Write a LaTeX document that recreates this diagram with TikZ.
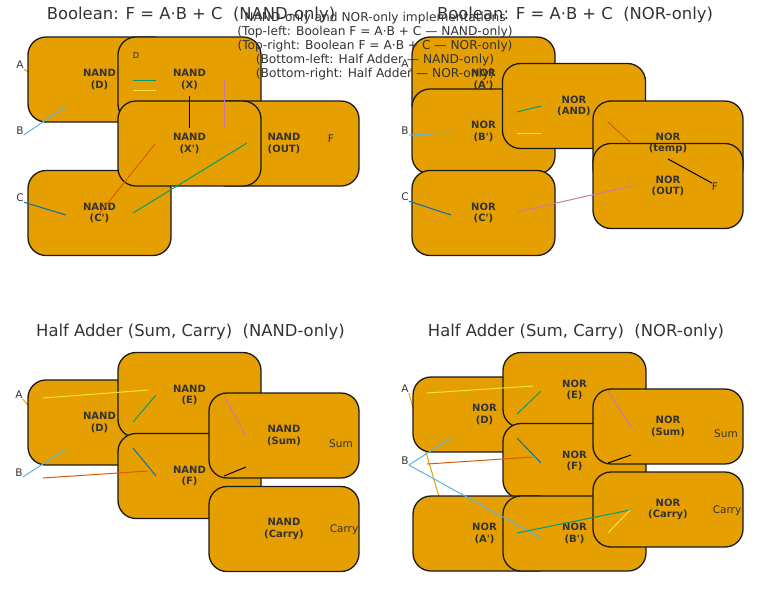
\documentclass[tikz,border=0pt]{standalone}
\usepackage{fontspec}
\setmainfont{DejaVu Sans}

\definecolor{gatefill}{HTML}{E69F00}
\definecolor{boxedge}{HTML}{1A1A1A}
\definecolor{ink}{HTML}{333333}
\definecolor{okorange}{HTML}{E69F00}
\definecolor{okskyblue}{HTML}{56B4E9}
\definecolor{okgreen}{HTML}{009E73}
\definecolor{okyellow}{HTML}{F0E442}
\definecolor{okblue}{HTML}{0072B2}
\definecolor{okvermillion}{HTML}{D55E00}
\definecolor{okpink}{HTML}{CC79A7}

\newcommand{\pr}{\textquotesingle}

\begin{document}
\begin{tikzpicture}[x=1pt, y=-1pt,
  gatetxt/.style={inner sep=0pt, align=center, text=ink,
    font=\fontsize{10}{11.5}\selectfont\bfseries},
  gate/.style={gatetxt, draw=boxedge, line width=1.3pt, fill=gatefill, rounded corners=18pt,
    minimum width=143pt, minimum height=85pt},
  wide/.style={minimum width=150pt},
  low/.style={minimum height=75pt},
  iolbl/.style={inner sep=0pt, text=ink, font=\fontsize{10.5}{12}\selectfont},
  paneltitle/.style={anchor=base, inner sep=0pt, text=ink, font=\fontsize{16.4}{19}\selectfont},
  wire/.style={line width=1pt}]

  \useasboundingbox (0,0) rectangle (768,590);

  % panel titles
  \node[paneltitle] (tlTitle) at (191,19.5) {Boolean: F = A·B + C~~(NAND-only)};
  \node[paneltitle] (trTitle) at (575,19.5) {Boolean: F = A·B + C~~(NOR-only)};
  \node[paneltitle] (blTitle) at (190.5,336) {Half Adder (Sum, Carry)~~(NAND-only)};
  \node[paneltitle] (brTitle) at (576,336) {Half Adder (Sum, Carry)~~(NOR-only)};

  % inputs
  \node[iolbl] (tlA) at (20,65) {A};
  \node[iolbl] (tlB) at (20,131) {B};
  \node[iolbl] (tlC) at (20,198) {C};
  \node[iolbl] (trA) at (405,64) {A};
  \node[iolbl] (trB) at (405,131) {B};
  \node[iolbl] (trC) at (405,197) {C};
  \node[iolbl] (blA) at (19,395) {A};
  \node[iolbl] (blB) at (19,473) {B};
  \node[iolbl] (brA) at (405,389) {A};
  \node[iolbl] (brB) at (405,461) {B};

  % wire ends
  \coordinate (tlDinA) at (66,96);
  \coordinate (tlDinB) at (66,106);
  \coordinate (tlCin) at (66,215);
  \coordinate (tlDo1) at (133,80);  \coordinate (tlXi1) at (156,80);
  \coordinate (tlDo2) at (133,90);  \coordinate (tlXi2) at (156,90);
  \coordinate (tlXo) at (189,96);   \coordinate (tlXpi) at (189,128);
  \coordinate (tlXo2) at (224,80);  \coordinate (tlXpi2) at (224,128);
  \coordinate (tlXpi3) at (155,144); \coordinate (tlCo) at (99,214);
  \coordinate (tlXpo) at (223,143); \coordinate (tlOutin) at (247,143);
  \coordinate (tlCo2) at (133,213);

  \coordinate (trApin) at (451,96);
  \coordinate (trBpin) at (451,133);
  \coordinate (trCpin) at (451,215);
  \coordinate (trAo) at (517,112);  \coordinate (trAndi1) at (541,106);
  \coordinate (trBo) at (517,133);  \coordinate (trAndi2) at (541,133);
  \coordinate (trAndo) at (608,122); \coordinate (trTempi) at (631,143);
  \coordinate (trTempo) at (668,159);
  \coordinate (trCo) at (517,212);  \coordinate (trOuti) at (631,186);

  \coordinate (blDinA) at (66,452);
  \coordinate (blDinB) at (66,449);
  \coordinate (blAo) at (43,398);   \coordinate (blEi1) at (148,390);
  \coordinate (blDo1) at (133,422); \coordinate (blEi2) at (156,395);
  \coordinate (blBo) at (43,478);   \coordinate (blFi1) at (148,471);
  \coordinate (blDo2) at (133,448); \coordinate (blFi2) at (156,476);
  \coordinate (blEo) at (224,396);  \coordinate (blSumi1) at (246,436);
  \coordinate (blFo) at (224,476);  \coordinate (blSumi2) at (246,467);

  \coordinate (brApin) at (451,538);
  \coordinate (brDinB) at (451,438);
  \coordinate (brBpin) at (541,538);
  \coordinate (brAo) at (427,393);  \coordinate (brEi1) at (533,386);
  \coordinate (brDo1) at (517,414); \coordinate (brEi2) at (541,391);
  \coordinate (brBo) at (427,464);  \coordinate (brFi1) at (533,457);
  \coordinate (brDo2) at (517,438); \coordinate (brFi2) at (541,463);
  \coordinate (brEo) at (608,391);  \coordinate (brSumi1) at (631,427);
  \coordinate (brFo) at (608,463);  \coordinate (brSumi2) at (631,455);
  \coordinate (brApo) at (517,533); \coordinate (brCarryi) at (630,510);
  \coordinate (brBpo) at (608,533);

  % A wires run under the gates
  \draw[wire, okorange] (tlA.south east) -- (tlDinA);
  \draw[wire, okorange] (trA.south east) -- (trApin);
  \draw[wire, okorange] (blA.south east) -- (blDinA);
  \draw[wire, okorange] (brA.south east) -- (brApin);

  % top-left: NAND-only
  \node[gate] (tlD) at (99.5,79.5) {NAND\\(D)};
  \node[gate] (tlCp) at (99.5,213) {NAND\\(C\pr)};
  \node[gate] (tlX) at (189.5,79.5) {NAND\\(X)};
  \node[gate, wide] (tlOut) at (284,143.5) {NAND\\(OUT)};
  \node[gate] (tlXp) at (189.5,143.5) {NAND\\(X\pr)};

  % top-right: NOR-only (temp text goes on top of OUT)
  \node[gate] (trAp) at (483.5,79.5) {NOR\\(A\pr)};
  \node[gate] (trBp) at (483.5,131.5) {NOR\\(B\pr)};
  \node[gate] (trCp) at (483.5,213) {NOR\\(C\pr)};
  \node[gate] (trAnd) at (574,106) {NOR\\(AND)};
  \node[gate, wide] (trTemp) at (668,143.5) {};
  \node[gate, wide] (trOut) at (668,186) {NOR\\(OUT)};
  \node[gatetxt] (trTempTxt) at (trTemp) {NOR\\(temp)};

  % bottom-left: half adder, NAND-only
  \node[gate] (blD) at (99.5,422.5) {NAND\\(D)};
  \node[gate] (blE) at (189.5,395) {NAND\\(E)};
  \node[gate] (blF) at (189.5,476) {NAND\\(F)};
  \node[gate, wide] (blSum) at (284,435.5) {NAND\\(Sum)};
  \node[gate, wide] (blCarry) at (284,529) {NAND\\(Carry)};

  % bottom-right: half adder, NOR-only
  \node[gate, low] (brD) at (484.5,414.5) {NOR\\(D)};
  \node[gate, low] (brE) at (574.5,390) {NOR\\(E)};
  \node[gate, low] (brF) at (574.5,461) {NOR\\(F)};
  \node[gate, low, wide] (brSum) at (668,426.5) {NOR\\(Sum)};
  \node[gate, low] (brAp) at (484.5,533.5) {NOR\\(A\pr)};
  \node[gate, low] (brBp) at (574.5,533.5) {NOR\\(B\pr)};
  \node[gate, low, wide] (brCarry) at (668,509.5) {NOR\\(Carry)};

  % outputs and stray labels
  \node[iolbl] (tlF) at (331,139) {F};
  \node[iolbl, font=\fontsize{8.3}{10}\selectfont] (tlDtag) at (136,55) {D};
  \node[iolbl] (trF) at (715,187) {F};
  \node[iolbl] (blSumLbl) at (341,444) {Sum};
  \node[iolbl] (blCarryLbl) at (344,530) {Carry};
  \node[iolbl] (brSumLbl) at (726,434) {Sum};
  \node[iolbl] (brCarryLbl) at (727,511) {Carry};

  % wires on top
  \draw[wire, okskyblue] (tlB.south east) -- (tlDinB);
  \draw[wire, okblue] (tlC.south east) -- (tlCin);
  \draw[wire, okgreen] (tlDo1) -- (tlXi1);
  \draw[wire, okyellow] (tlDo2) -- (tlXi2);
  \draw[wire, black] (tlXo) -- (tlXpi);
  \draw[wire, okpink] (tlXo2) -- (tlXpi2);
  \draw[wire, okvermillion] (tlXpi3) -- (tlCo);
  \draw[wire, okskyblue] (tlXpo) -- (tlOutin);
  \draw[wire, okgreen] (tlOutin) -- (tlCo2);

  \draw[wire, okskyblue] (trB.south east) -- (trBpin);
  \draw[wire, okblue] (trC.south east) -- (trCpin);
  \draw[wire, okgreen] (trAo) -- (trAndi1);
  \draw[wire, okyellow] (trBo) -- (trAndi2);
  \draw[wire, okvermillion] (trAndo) -- (trTempi);
  \draw[wire, black] (trTempo) -- (trF.north west);
  \draw[wire, okpink] (trCo) -- (trOuti);

  \draw[wire, okyellow] (blAo) -- (blEi1);
  \draw[wire, okgreen] (blDo1) -- (blEi2);
  \draw[wire, okskyblue] (blB.south east) -- (blDinB);
  \draw[wire, okvermillion] (blBo) -- (blFi1);
  \draw[wire, okblue] (blDo2) -- (blFi2);
  \draw[wire, okpink] (blEo) -- (blSumi1);
  \draw[wire, black] (blFo) -- (blSumi2);

  \draw[wire, okyellow] (brAo) -- (brEi1);
  \draw[wire, okgreen] (brDo1) -- (brEi2);
  \draw[wire, okskyblue] (brB.south east) -- (brDinB);
  \draw[wire, okskyblue] (brB.south east) -- (brBpin);
  \draw[wire, okvermillion] (brBo) -- (brFi1);
  \draw[wire, okblue] (brDo2) -- (brFi2);
  \draw[wire, okpink] (brEo) -- (brSumi1);
  \draw[wire, black] (brFo) -- (brSumi2);
  \draw[wire, okgreen] (brApo) -- (brCarryi);
  \draw[wire, okyellow] (brBpo) -- (brCarryi);

  % figure caption
  \node[anchor=north, inner sep=0pt, align=center, text=ink,
    font=\fontsize{12.2}{14}\selectfont] (caption) at (375,12.4)
    {NAND-only and NOR-only implementations\\
     (Top-left: Boolean F = A·B + C — NAND-only)\\
     (Top-right: Boolean F = A·B + C — NOR-only)\\
     (Bottom-left: Half Adder — NAND-only)\\
     (Bottom-right: Half Adder — NOR-only)};

\end{tikzpicture}
\end{document}
